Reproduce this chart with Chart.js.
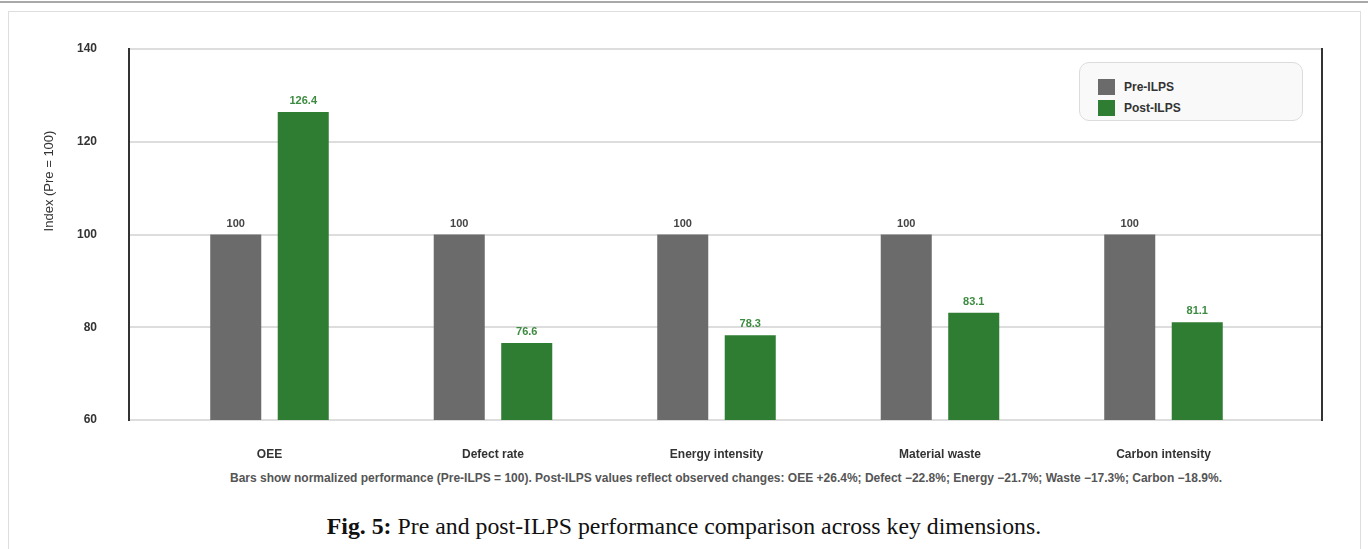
<!DOCTYPE html>
<html>
<head>
<meta charset="utf-8">
<script src="https://cdn.jsdelivr.net/npm/chart.js@4.4.0/dist/chart.umd.min.js"></script>
<style>
    body { margin: 0; background: #fff; font-family: "Liberation Sans", Arial, sans-serif; }
    #page { position: relative; width: 1368px; height: 549px; overflow: hidden; }
    #topline { position: absolute; left: 0; top: 1px; width: 1368px; height: 2px; background: #a8a8a8; }
    #card { position: absolute; left: 8px; top: 11px; width: 1353px; height: 560px; border: 1px solid #dedede; box-sizing: border-box; }
    #chart-wrap { position: absolute; left: 0; top: 0; width: 1368px; height: 470px; }
    #legend { position: absolute; left: 1079px; top: 62px; width: 224px; height: 59px; box-sizing: border-box;
              border: 1px solid #dcdcdc; border-radius: 10px; background: #f9f9f9; }
    .leg-item { position: absolute; left: 18px; height: 17px; font-size: 12px; font-weight: bold; color: #333; line-height: 17px; }
    .leg-box { display: inline-block; width: 17px; height: 16px; vertical-align: top; margin-right: 9px; }
    #note { position: absolute; left: 226px; width: 1000px; top: 471px; text-align: center; white-space: nowrap;
            font-size: 12px; font-weight: bold; color: #555; }
    #caption { position: absolute; left: 0; width: 1368px; top: 511px; text-align: center; white-space: nowrap;
               font-family: "Liberation Serif", "Times New Roman", serif; font-size: 23.8px; line-height: 30px; color: #111; }
</style>
</head>
<body>
<div id="page">
    <div id="topline"></div>
    <div id="card"></div>
    <div id="chart-wrap"><canvas id="perf-chart" width="1368" height="470"></canvas></div>
    <div id="legend"></div>
    <div id="note"></div>
    <div id="caption"><b>Fig. 5:</b> Pre and post-ILPS performance comparison across key dimensions.</div>
</div>
<script>
// Chart data
const categories = ['OEE', 'Defect rate', 'Energy intensity', 'Material waste', 'Carbon intensity'];
const preValues = [100, 100, 100, 100, 100];
const postValues = [126.4, 76.6, 78.3, 83.1, 81.1];
const yTicks = [60, 80, 100, 120, 140];
const seriesNames = ['Pre-ILPS', 'Post-ILPS'];
const seriesColors = ['#6b6b6b', '#2e7d32'];
const labelColors = ['#444444', '#3d8b40'];
const noteText = 'Bars show normalized performance (Pre-ILPS = 100). Post-ILPS values reflect observed changes: OEE +26.4%; Defect \u221222.8%; Energy \u221221.7%; Waste \u221217.3%; Carbon \u221218.9%.';

const FONT = '"Liberation Sans", Arial, sans-serif';

function toPoints(values) {
    return values.map((v, i) => ({ x: i, y: v }));
}

// Value labels above each bar
const valueLabels = {
    id: 'valueLabels',
    afterDatasetsDraw(chart) {
        const ctx = chart.ctx;
        ctx.save();
        ctx.font = 'bold 11px ' + FONT;
        ctx.textAlign = 'center';
        ctx.textBaseline = 'alphabetic';
        chart.data.datasets.forEach((ds, di) => {
            ctx.fillStyle = labelColors[di];
            chart.getDatasetMeta(di).data.forEach((bar, i) => {
                ctx.fillText(String(ds.data[i].y), bar.x, bar.y - 8);
            });
        });
        ctx.restore();
    }
};

// Rotated y-axis title
const yTitle = {
    id: 'yTitle',
    afterDraw(chart) {
        const ctx = chart.ctx;
        ctx.save();
        ctx.translate(49, 181);
        ctx.rotate(-Math.PI / 2);
        ctx.font = '13px ' + FONT;
        ctx.fillStyle = '#333';
        ctx.textAlign = 'center';
        ctx.textBaseline = 'middle';
        ctx.fillText('Index (Pre = 100)', 0, 0);
        ctx.restore();
    }
};

const ctx = document.getElementById('perf-chart').getContext('2d');
const perfChart = new Chart(ctx, {
    type: 'bar',
    data: {
        datasets: [
            {
                label: seriesNames[0],
                data: toPoints(preValues),
                backgroundColor: seriesColors[0],
                categoryPercentage: 0.604,
                barPercentage: 0.756
            },
            {
                label: seriesNames[1],
                data: toPoints(postValues),
                backgroundColor: seriesColors[1],
                categoryPercentage: 0.604,
                barPercentage: 0.756
            }
        ]
    },
    options: {
        responsive: false,
        animation: false,
        layout: { padding: { left: 0, top: 49, right: 46, bottom: 0 } },
        plugins: {
            legend: { display: false },
            tooltip: { enabled: false }
        },
        scales: {
            x: {
                type: 'linear',
                offset: false,
                min: -0.6286,
                max: 4.7092,
                afterBuildTicks: (scale) => {
                    scale.ticks = scale.ticks.filter(t => Number.isInteger(t.value));
                },
                ticks: {
                    stepSize: 1,
                    autoSkip: false,
                    maxRotation: 0,
                    padding: 19,
                    color: '#333',
                    font: { family: FONT, size: 12, weight: 'bold' },
                    callback: (value) => categories[value] || ''
                },
                grid: { display: false, offset: false },
                border: { display: false },
                afterFit: (scale) => { scale.height = 50; }
            },
            y: {
                min: yTicks[0],
                max: yTicks[yTicks.length - 1],
                afterBuildTicks: (scale) => {
                    scale.ticks = yTicks.map(v => ({ value: v }));
                },
                ticks: {
                    padding: 32,
                    color: '#333',
                    font: { family: FONT, size: 12, weight: 'bold' }
                },
                grid: { color: '#dddddd', lineWidth: 2, drawTicks: false },
                border: { display: true, color: '#333', width: 2 },
                afterFit: (scale) => { scale.width = 129; }
            },
            yRight: {
                position: 'right',
                min: yTicks[0],
                max: yTicks[yTicks.length - 1],
                ticks: { display: false },
                grid: { display: false, drawTicks: false },
                border: { display: true, color: '#333', width: 2 },
                afterFit: (scale) => { scale.width = 0; }
            }
        }
    },
    plugins: [valueLabels, yTitle]
});

document.getElementById('note').textContent = noteText;

// Legend built from the datasets
const legendEl = document.getElementById('legend');
perfChart.data.datasets.forEach((ds, i) => {
    const item = document.createElement('div');
    item.className = 'leg-item';
    item.style.top = (16 + i * 21) + 'px';
    const box = document.createElement('span');
    box.className = 'leg-box';
    box.style.background = ds.backgroundColor;
    item.appendChild(box);
    item.appendChild(document.createTextNode(ds.label));
    legendEl.appendChild(item);
});
</script>
</body>
</html>
